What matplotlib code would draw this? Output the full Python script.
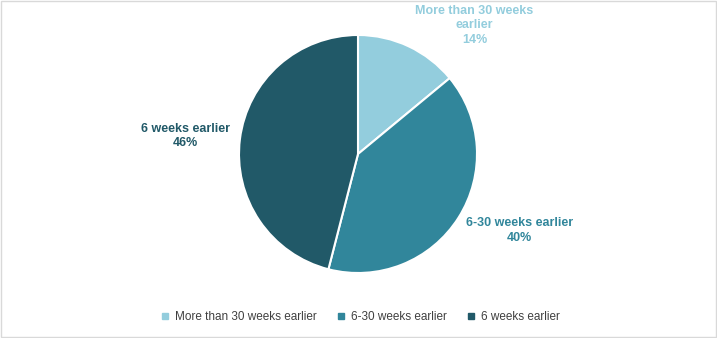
import matplotlib.pyplot as plt
from matplotlib.patches import Rectangle
from matplotlib.lines import Line2D

plt.rcParams['font.family'] = ['Liberation Sans', 'DejaVu Sans']

# Data
categories = ['More than 30 weeks earlier', '6-30 weeks earlier', '6 weeks earlier']
shares = [14, 40, 46]
colors = ['#93CDDD', '#31869B', '#215968']
label_pos = [(0.98, 1.08), (1.36, -0.64), (-1.45, 0.15)]

fig = plt.figure(figsize=(7.17, 3.38), dpi=100)
ax = fig.add_axes([239 / 717, 65 / 338, 238 / 717, 238 / 338])

ax.pie(shares, colors=colors, startangle=90, counterclock=False, radius=1,
       wedgeprops=dict(edgecolor='white', linewidth=1.5))
ax.set_xlim(-1, 1)
ax.set_ylim(-1, 1)
ax.set_aspect('equal')

for cat, val, col, (x, y) in zip(categories, shares, colors, label_pos):
    txt = cat.replace('30 weeks earlier', '30 weeks\nearlier') if cat.startswith('More') else cat
    ax.text(x, y, f'{txt}\n{val}%', ha='center', va='center', color=col,
            fontsize=9, fontweight='bold', linespacing=1.3, clip_on=False)

handles = [Line2D([0], [0], marker='s', linestyle='', markersize=3.8,
                  markerfacecolor=c, markeredgecolor=c) for c in colors]
fig.legend(handles, categories, loc='center', bbox_to_anchor=(360 / 717, 1 - 317 / 338),
           ncol=3, frameon=False, fontsize=8.5, handlelength=0.8, handletextpad=0.45,
           columnspacing=1.63, labelcolor='#404040')

fig.patches.append(Rectangle((0.001, 0.002), 0.997, 0.995, transform=fig.transFigure,
                             fill=False, edgecolor='#D9D9D9', linewidth=1))

fig.savefig('out.png', dpi=100)
